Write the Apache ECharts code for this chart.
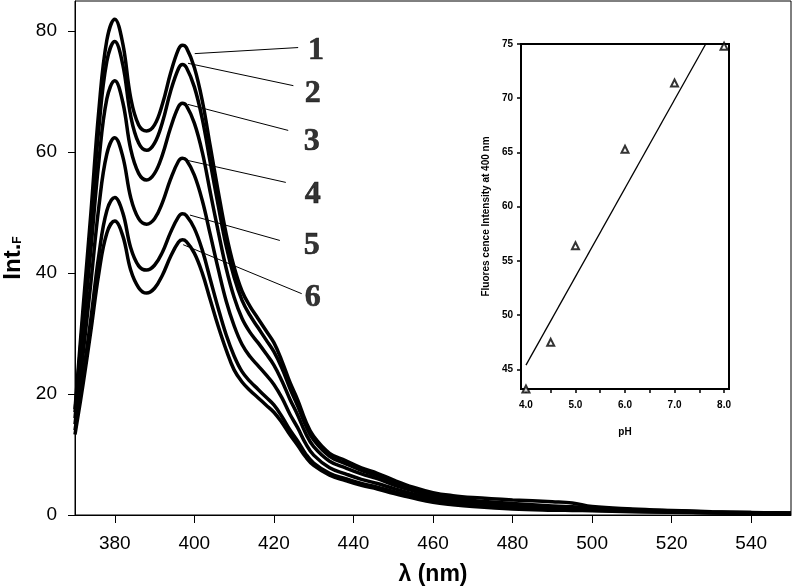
<!DOCTYPE html>
<html>
<head>
<meta charset="utf-8">
<script src="https://cdn.jsdelivr.net/npm/echarts@6/dist/echarts.min.js"></script>
<style>html,body{margin:0;padding:0;background:#fff}#c{width:793px;height:588px}</style>
</head>
<body>
<div id="c"></div>
<script>
// wavelength (nm)
const wavelengths = [370,372,374,376,378,380,382,384,386,388,390,392,394,396,397,398,400,402,404,406,408,410,412,414,416,418,420,422,424,426,428,430,434,438,442,446,450,455,460,465,470,480,490,495,500,510,520,530,540,550];
const curve1 = [17.5,34,50,67,78.5,82,78,69,64.5,63.5,64.5,68,73,77,77.7,77.3,74,68.5,61,53.5,46.5,41,37,34.5,32.5,30.5,28.5,25.5,22,19,15.5,13,10.2,9,7.8,6.9,5.8,4.6,3.7,3.2,2.9,2.5,2.2,2.0,1.4,1.0,0.75,0.55,0.4,0.3];
const curve2 = [17,32.5,48,64,75,78.3,74.5,66,61.5,60.3,61.5,65,70,73.8,74.5,74,70.8,65.5,58.3,51.2,44.5,39.3,35.5,33,31,29,27,24.3,21,18,14.8,12.4,9.7,8.5,7.4,6.5,5.5,4.3,3.4,2.8,2.4,1.9,1.5,1.35,1.2,0.9,0.7,0.5,0.4,0.3];
const curve3 = [16,30,44,58.5,68.8,71.8,68.3,60.5,56.5,55.4,56.5,59.6,64,67.5,68.1,67.7,64.8,60,53.4,46.9,40.8,36,32.5,30.2,28.5,26.7,24.8,22.2,19.2,16.5,13.5,11.3,8.9,7.8,6.8,6.0,5.0,4.0,3.1,2.5,2.1,1.6,1.3,1.2,1.05,0.8,0.6,0.45,0.35,0.3];
const curve4 = [15,26.5,38.5,51,59.7,62.4,59.3,52.5,49,48.1,49,51.7,55.5,58.5,59.0,58.7,56.2,52,46.4,40.7,35.4,31.3,28.2,26.2,24.7,23.2,21.6,19.4,16.7,14.4,11.8,9.9,7.8,6.8,5.9,5.2,4.4,3.5,2.7,2.2,1.8,1.4,1.1,1.0,0.9,0.7,0.55,0.4,0.3,0.25];
const curve5 = [14,23,32.5,43,50.3,52.5,50,44.2,41.2,40.5,41.3,43.5,46.7,49.3,49.8,49.5,47.4,43.8,39,34.2,29.8,26.3,23.7,22.1,20.8,19.5,18.2,16.3,14.1,12.2,10.1,8.6,6.9,6.0,5.2,4.6,3.9,3.1,2.4,1.9,1.6,1.2,0.95,0.9,0.8,0.6,0.5,0.4,0.3,0.25];
const curve6 = [13.3,21.5,30.5,40,46.6,48.6,46.2,40.5,37.6,36.7,37.5,39.7,42.7,45.1,45.5,45.2,43.3,40,35.6,31.2,27.3,24,22,20.6,19.4,18.2,17,15.3,13.3,11.5,9.6,8.2,6.6,5.7,4.9,4.3,3.6,2.8,2.1,1.7,1.4,1.0,0.8,0.75,0.7,0.55,0.45,0.35,0.3,0.25];
const curves = [curve1, curve2, curve3, curve4, curve5, curve6];

const xTicks = [380,400,420,440,460,480,500,520,540];
const yTicks = [0,20,40,60,80];

// curve labels and leader lines (data coordinates)
const curveNames = ['1','2','3','4','5','6'];
const labelX = [430.6,429.8,429.5,429.8,429.5,429.8];
const labelY = [76.8,69.7,61.8,53.0,44.6,36.0];
const leaderX1 = [400.1,398.4,398.4,397.2,398.9,397.2];
const leaderY1 = [76.3,74.7,67.9,58.8,49.6,44.7];
const leaderX2 = [426.1,424.9,423.6,423.0,421.5,427.0];
const leaderY2 = [77.3,71.0,63.6,55.0,45.4,36.6];

// inset
const pH = [4.0,4.5,5.0,6.0,7.0,8.0];
const intensity400 = [43.2,47.5,56.4,65.3,71.4,74.8];
const fitX = [4.0,7.63];
const fitY = [45.4,75.0];
const insetXTicks = [4,5,6,7,8];
const insetXMinor = [4,4.5,5,5.5,6,6.5,7,7.5,8];
const insetYTicks = [45,50,55,60,65,70,75];

const chart = echarts.init(document.getElementById('c'), null, {renderer:'canvas'});
const FONT = 'Liberation Sans, Arial, sans-serif';

const series = [];
curves.forEach((c, i) => {
  series.push({
    type:'line', xAxisIndex:0, yAxisIndex:0, smooth:0.4, symbol:'none',
    lineStyle:{color:'#000', width:3.5},
    data: wavelengths.map((w, j) => [w, c[j]]),
    z: 3
  });
});
series.push({
  type:'line', xAxisIndex:0, yAxisIndex:0, data:[], symbol:'none',
  markLine:{
    silent:true, symbol:['none','none'], label:{show:false},
    lineStyle:{color:'#000', width:1, type:'solid'},
    data: curveNames.map((n,i) => [{coord:[leaderX1[i], leaderY1[i]]},{coord:[leaderX2[i], leaderY2[i]]}])
  }
});
series.push({
  type:'scatter', xAxisIndex:0, yAxisIndex:0, symbolSize:0,
  data: curveNames.map((n,i) => ({name:n, value:[labelX[i], labelY[i]]})),
  label:{show:true, position:'inside', formatter:p=>p.name, color:'#000',
    textBorderColor:'#000', textBorderWidth:0.6,
    fontFamily:'Liberation Serif, Times New Roman, serif', fontWeight:'bold', fontSize:32}
});
series.push({
  type:'line', xAxisIndex:1, yAxisIndex:1, symbol:'none',
  lineStyle:{color:'#000', width:1.3},
  data: fitX.map((x,i)=>[x, fitY[i]]), z:20
});
series.push({
  type:'scatter', xAxisIndex:1, yAxisIndex:1, symbol:'triangle', symbolSize:7, clip:false,
  itemStyle:{color:'#fff', borderColor:'#000', borderWidth:2},
  data: pH.map((x,i)=>[x, intensity400[i]]), z:21
});

chart.setOption({
  animation:false,
  backgroundColor:'#fff',
  grid:[
    {left:75, top:1, right:2, bottom:73, show:true, borderColor:'#000', borderWidth:1, backgroundColor:'transparent', outerBoundsMode:'none', containLabel:false},
    {left:521, top:44, width:208, height:345, show:true, borderColor:'#000', borderWidth:2, backgroundColor:'#fff', outerBoundsMode:'none', containLabel:false}
  ],
  xAxis:[
    {type:'value', gridIndex:0, min:370, max:550,
     name:'λ (nm)', nameLocation:'middle', nameGap:48,
     nameTextStyle:{fontFamily:FONT, fontWeight:'bold', fontSize:23, color:'#000'},
     axisLine:{show:true, lineStyle:{color:'#000', width:1}},
     axisTick:{show:true, length:8, lineStyle:{color:'#000'}, customValues:xTicks},
     axisLabel:{show:true, customValues:xTicks, margin:19, fontFamily:FONT, fontSize:19, color:'#000'},
     splitLine:{show:false}},
    {type:'value', gridIndex:1, min:3.9, max:8.1,
     name:'pH', nameLocation:'middle', nameGap:38,
     nameTextStyle:{fontFamily:FONT, fontWeight:'bold', fontSize:10, color:'#000'},
     axisLine:{show:true, lineStyle:{color:'#000', width:2}},
     axisTick:{show:true, length:4, lineStyle:{color:'#000', width:1.5}, customValues:insetXMinor},
     axisLabel:{show:true, customValues:insetXTicks, margin:11, formatter:v=>v.toFixed(1), fontFamily:FONT, fontWeight:'bold', fontSize:10, color:'#000'},
     splitLine:{show:false}}
  ],
  yAxis:[
    {type:'value', gridIndex:0, min:0, max:85,
     name:'{a|Int.}{b|F}', nameLocation:'middle', nameGap:42,
     nameTextStyle:{color:'#000', rich:{
       a:{fontFamily:FONT, fontWeight:'bold', fontSize:24, color:'#000'},
       b:{fontFamily:FONT, fontWeight:'bold', fontSize:12, color:'#000', padding:[10,0,0,0]}
     }},
     axisLine:{show:true, lineStyle:{color:'#000', width:1}},
     axisTick:{show:true, length:7, lineStyle:{color:'#000'}, customValues:yTicks},
     axisLabel:{show:true, customValues:yTicks, margin:18, fontFamily:FONT, fontSize:19, color:'#000'},
     splitLine:{show:false}},
    {type:'value', gridIndex:1, min:43.2, max:75,
     name:'Fluores cence Intensity at 400 nm', nameLocation:'middle', nameGap:30,
     nameTextStyle:{fontFamily:FONT, fontWeight:'bold', fontSize:10, color:'#000'},
     axisLine:{show:true, lineStyle:{color:'#000', width:2}},
     axisTick:{show:true, length:4, lineStyle:{color:'#000', width:1.5}, customValues:insetYTicks},
     axisLabel:{show:true, customValues:insetYTicks, margin:8, fontFamily:FONT, fontWeight:'bold', fontSize:10, color:'#000'},
     splitLine:{show:false}}
  ],
  series: series
});
</script>
</body>
</html>
